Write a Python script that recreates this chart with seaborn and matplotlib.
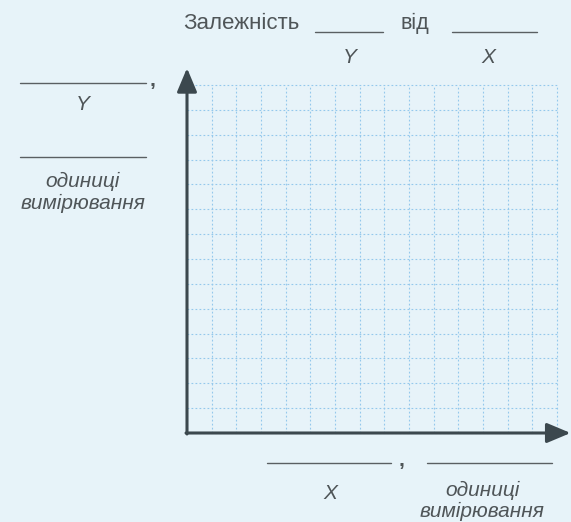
import matplotlib
matplotlib.use("Agg")
import matplotlib.pyplot as plt
import seaborn as sns
from matplotlib.lines import Line2D

W, H = 571, 522

# blank grid: number of cells along each axis
x_cells = 15
y_cells = 14

title_words = ["Залежність", "від"]
var_y = "Y"
var_x = "X"
units_lines = ["одиниці", "вимірювання"]

bg = "#e7f3f9"
grid_c = "#94c8ec"
axis_c = "#3c484e"
text_c = "#4f5558"
blank_c = "#5a5f62"

sns.set_theme(style="whitegrid", rc={"axes.facecolor": bg, "figure.facecolor": bg})
plt.rcParams["font.family"] = ["Liberation Sans", "DejaVu Sans"]


def fx(px):
    return px / W


def fy(py):
    return 1 - py / H


fig = plt.figure(figsize=(W / 100, H / 100), dpi=100, facecolor=bg)
ax = fig.add_axes([fx(187), fy(433), fx(557) - fx(187), fy(85) - fy(433)])
ax.set_facecolor(bg)
ax.set_xlim(0, x_cells)
ax.set_ylim(0, y_cells)
ax.set_xticks(range(x_cells + 1))
ax.set_yticks(range(y_cells + 1))
ax.tick_params(length=0, labelbottom=False, labelleft=False)
ax.grid(True, color=grid_c, linestyle=(0, (1.6, 2.0)), linewidth=0.8)
for s in ax.spines.values():
    s.set_visible(False)
for gl in ax.get_xgridlines() + ax.get_ygridlines():
    gl.set_clip_on(False)

# axes with arrows
arrow = dict(arrowstyle="-|>,head_length=1.0,head_width=0.42", color=axis_c,
             lw=2.2, mutation_scale=14.5, shrinkA=0, shrinkB=0)
ax.annotate("", xy=(15.55, 0), xytext=(-0.04, 0), arrowprops=arrow, annotation_clip=False)
ax.annotate("", xy=(0, 14.68), xytext=(0, -0.04), arrowprops=arrow, annotation_clip=False)


def blank(x0, x1, y):
    fig.add_artist(Line2D([fx(x0), fx(x1)], [fy(y), fy(y)], color=blank_c, lw=1.0))


def label(x, y, s, ha="center", italic=True, size=15, weight="normal"):
    fig.text(fx(x), fy(y), s, ha=ha, va="baseline", fontsize=size, fontweight=weight,
             style="italic" if italic else "normal", color=text_c)


# title
label(183, 29, title_words[0], ha="left", italic=False, size=16)
blank(315, 383, 32)
label(400, 29, title_words[1], ha="left", italic=False, size=15.5)
blank(452, 537, 32)
label(350, 63, var_y)
label(488, 63, var_x)

# y label block
blank(20, 146, 83)
label(150, 86, ",", ha="left", italic=False, weight="bold")
label(83, 110, var_y)
blank(20, 146, 157)
label(83, 187, units_lines[0])
label(83, 209, units_lines[1])

# x label block
blank(267, 391, 463)
label(399, 466, ",", ha="left", italic=False, weight="bold")
blank(427, 552, 463)
label(330, 499, var_x)
label(482, 496, units_lines[0])
label(482, 517, units_lines[1])

fig.savefig("out.png", dpi=100, facecolor=bg)
